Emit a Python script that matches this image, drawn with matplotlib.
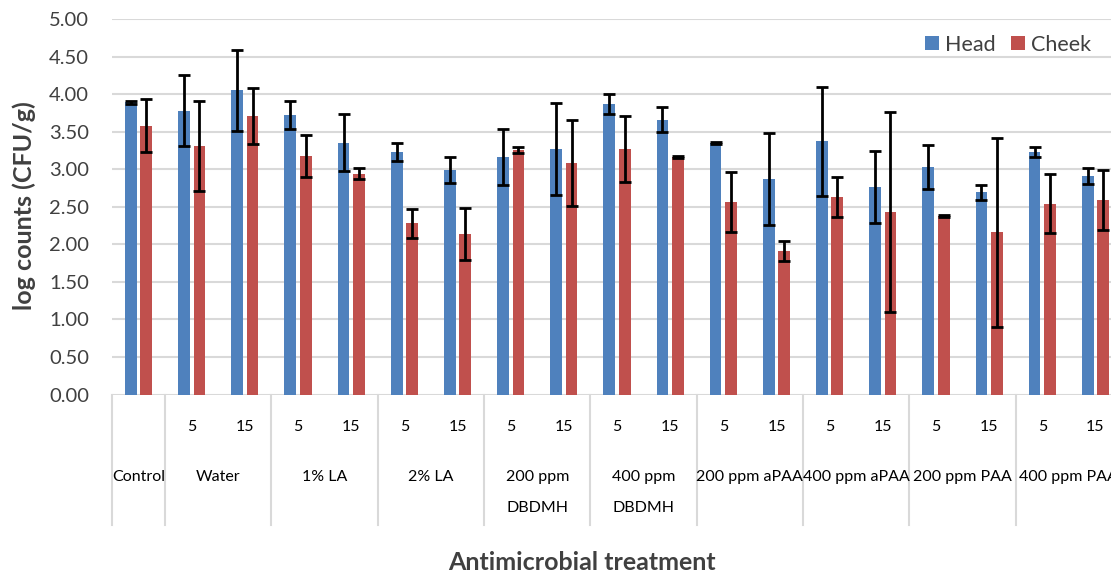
import matplotlib
matplotlib.use("Agg")
import matplotlib.pyplot as plt
import matplotlib.transforms as mtransforms
import numpy as np

plt.rcParams['font.family'] = ['Lato', 'DejaVu Sans']

groups = ["Control", "Water", "1% LA", "2% LA", "200 ppm\nDBDMH", "400 ppm\nDBDMH",
          "200 ppm aPAA", "400 ppm aPAA", "200 ppm PAA", "400 ppm PAA"]
times = ["", "5", "15", "5", "15", "5", "15", "5", "15", "5", "15",
         "5", "15", "5", "15", "5", "15", "5", "15"]

head = [3.89, 3.78, 4.05, 3.72, 3.35, 3.23, 2.99, 3.16, 3.27, 3.87, 3.66,
        3.35, 2.87, 3.37, 2.76, 3.03, 2.69, 3.23, 2.91]
head_err = [0.02, 0.47, 0.54, 0.19, 0.38, 0.12, 0.17, 0.37, 0.61, 0.13, 0.17,
            0.01, 0.61, 0.73, 0.48, 0.29, 0.095, 0.07, 0.11]
cheek = [3.58, 3.31, 3.71, 3.18, 2.94, 2.28, 2.14, 3.25, 3.08, 3.27, 3.16,
         2.56, 1.91, 2.63, 2.43, 2.38, 2.16, 2.54, 2.59]
cheek_err = [0.35, 0.60, 0.37, 0.28, 0.07, 0.19, 0.35, 0.04, 0.57, 0.44, 0.01,
             0.40, 0.13, 0.27, 1.33, 0.01, 1.26, 0.39, 0.40]

head_color = "#4f81bd"
cheek_color = "#c0504d"
grid_color = "#d9d9d9"

fig = plt.figure(figsize=(11.11, 5.73), dpi=100)
ax = fig.add_axes([112/1111, (573-394.5)/573, 1010/1111, 375.5/573])

x = np.arange(len(head))
w = 0.22
off = 0.145
ekw = dict(ecolor="black", elinewidth=2, capthick=2, capsize=4.3)
ax.bar(x - off, head, w, color=head_color, label="Head", zorder=2,
       yerr=head_err, error_kw=ekw)
ax.bar(x + off, cheek, w, color=cheek_color, label="Cheek", zorder=2,
       yerr=cheek_err, error_kw=ekw)

ax.set_xlim(-0.5, len(head) - 0.5)
ax.set_ylim(0, 5)
ax.set_yticks(np.arange(0, 5.01, 0.5))
ax.set_yticklabels([f"{v:.2f}" for v in np.arange(0, 5.01, 0.5)], fontsize=14.5, color="#404040")
ax.tick_params(axis="y", length=0, pad=16.5)
ax.set_xticks([])
for s in ax.spines.values():
    s.set_visible(False)
ax.yaxis.grid(True, color=grid_color, lw=1.5, zorder=0)
ax.set_axisbelow(True)

trans = mtransforms.blended_transform_factory(ax.transData, ax.transAxes)
# multi-level category table
bounds = [-0.5, 0.5] + [0.5 + 2 * i for i in range(1, 10)]
for b in bounds:
    ax.plot([b, b], [0, -0.3475], color=grid_color, lw=1.5, transform=trans, clip_on=False)
for i, t in enumerate(times):
    if t:
        ax.text(i, -0.0866, t, transform=trans, ha="center", va="center", fontsize=11.5, color="black")
centers = [0] + [1.5 + 2 * i for i in range(9)]
for c, g in zip(centers, groups):
    lines = g.split("\n")
    ax.text(c, -0.2197, lines[0], transform=trans, ha="center", va="center", fontsize=11.5, color="black")
    if len(lines) > 1:
        ax.text(c, -0.302, lines[1], transform=trans, ha="center", va="center", fontsize=11.5, color="black")

fig.text(24/1111, 1 - 206/573, "log counts (CFU/g)", rotation=90, ha="center", va="center",
         fontsize=18, fontweight="bold", color="#404040")
fig.text(582/1111, 1 - 562/573, "Antimicrobial treatment", ha="center", va="center",
         fontsize=18, fontweight="bold", color="#404040")

leg = ax.legend(loc="upper right", bbox_to_anchor=(1100/1111, 1 - 26/573), bbox_transform=fig.transFigure,
                ncol=2, frameon=False, fontsize=15.5, handlelength=0.65, handleheight=0.65,
                handletextpad=0.3, columnspacing=0.7, borderaxespad=0)
for t in leg.get_texts():
    t.set_color("#404040")

fig.savefig("out.png", dpi=100)
